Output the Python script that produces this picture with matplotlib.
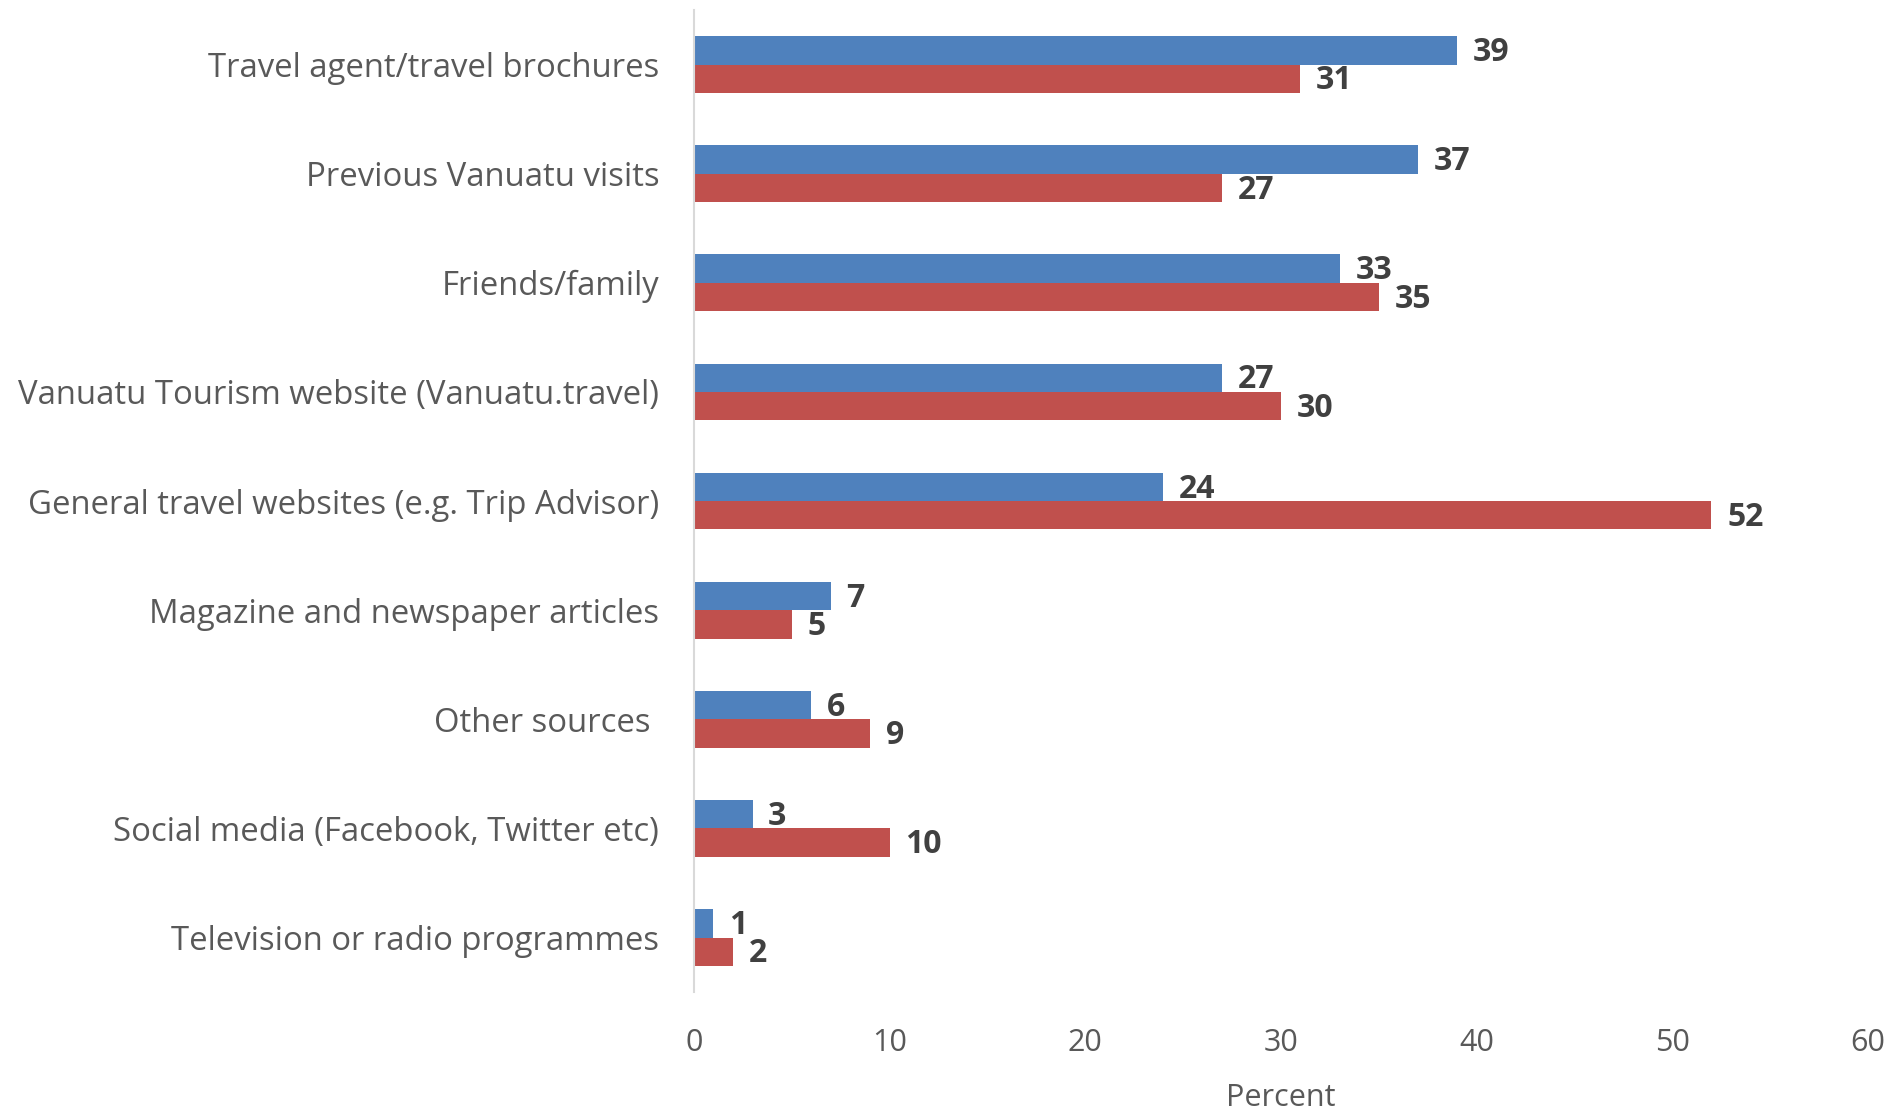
import numpy as np
import matplotlib.pyplot as plt

plt.rcParams['font.family'] = ['Open Sans', 'DejaVu Sans']

# Information sources, top to bottom
sources = [
    "Travel agent/travel brochures",
    "Previous Vanuatu visits",
    "Friends/family",
    "Vanuatu Tourism website (Vanuatu.travel)",
    "General travel websites (e.g. Trip Advisor)",
    "Magazine and newspaper articles",
    "Other sources ",
    "Social media (Facebook, Twitter etc)",
    "Television or radio programmes",
]
blue_vals = [39, 37, 33, 27, 24, 7, 6, 3, 1]
red_vals = [31, 27, 35, 30, 52, 5, 9, 10, 2]
x_ticks = [0, 10, 20, 30, 40, 50, 60]

blue = "#4F81BD"
red = "#C0504D"

fig = plt.figure(figsize=(19.01, 11.11), dpi=100)
ax = fig.add_axes([0.365, 0.107, 0.6176, 0.884])

y = np.arange(len(sources))
h = 0.26
ax.barh(y - h / 2, blue_vals, height=h, color=blue)
ax.barh(y + h / 2, red_vals, height=h, color=red)

for yi, v in zip(y, blue_vals):
    ax.text(v + 0.8, yi - h / 2 + 0.02, str(v), va="center", ha="left",
            fontsize=23, fontweight="bold", color="#404040")
for yi, v in zip(y, red_vals):
    ax.text(v + 0.8, yi + h / 2 + 0.02, str(v), va="center", ha="left",
            fontsize=23, fontweight="bold", color="#404040")

ax.set_ylim(len(sources) - 0.5, -0.5)
ax.set_xlim(0, 60)
ax.set_yticks(y)
ax.set_yticklabels(sources, fontsize=23.7, color="#595959")
ax.set_xticks(x_ticks)
ax.set_xticklabels([str(t) for t in x_ticks], fontsize=22, color="#595959")
ax.tick_params(axis="y", length=0, pad=25)
ax.tick_params(axis="x", length=0, pad=26)
ax.set_xlabel("Percent", fontsize=22, color="#595959", labelpad=18)

for s in ["top", "right", "bottom"]:
    ax.spines[s].set_visible(False)
ax.spines["left"].set_color("#D9D9D9")
ax.spines["left"].set_linewidth(1.5)

fig.savefig("out.png", dpi=100, facecolor="white")
